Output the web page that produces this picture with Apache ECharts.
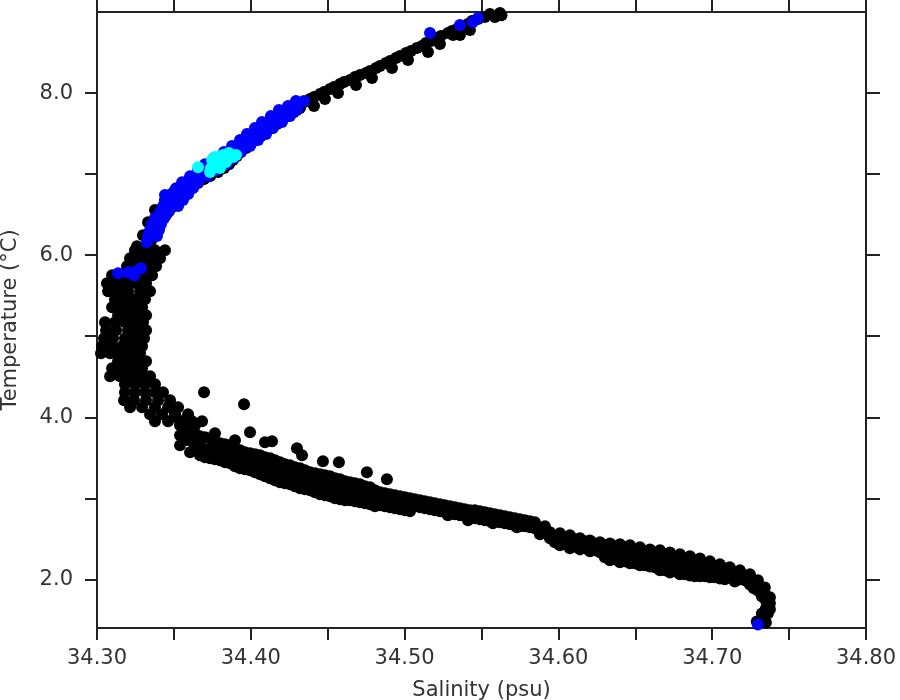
<!DOCTYPE html>
<html><head><meta charset="utf-8">
<script src="https://cdn.jsdelivr.net/npm/echarts@6/dist/echarts.min.js"></script>
<style>html,body{margin:0;padding:0;background:#fff}#c{width:900px;height:700px}</style>
</head><body><div id="c"></div>
<script>
// Salinity (psu), Temperature (°C) pairs
const blackUpper = [
[34.5620,8.988],[34.5555,8.975],[34.5522,8.938],[34.5477,8.914],[34.5438,8.889],[34.5412,8.852],[34.5379,8.827],[34.5340,8.790],[34.5308,8.765],[34.5282,8.741],[34.5236,8.704],[34.5210,8.679],[34.5171,8.642],[34.5139,8.617],[34.5113,8.580],[34.5080,8.556],[34.5041,8.519],[34.5009,8.494],[34.4970,8.457],[34.4944,8.432],[34.4905,8.395],[34.4879,8.370],[34.4840,8.333],[34.4814,8.309],[34.4775,8.272],[34.4749,8.247],[34.4710,8.222],[34.4677,8.198],[34.4645,8.160],[34.4606,8.136],[34.4580,8.111],[34.4541,8.074],[34.4515,8.049],[34.4476,8.012],[34.4450,7.988],[34.4411,7.951],[34.4385,7.926],[34.4346,7.889],[34.4320,7.864],
[34.5360,8.716],[34.5230,8.605],[34.5152,8.506],[34.5022,8.407],[34.4918,8.309],[34.4788,8.185],[34.4684,8.099],[34.4567,8.000],[34.4482,7.926],[34.4411,7.840],[34.5425,8.778],[34.5587,8.938],[34.5630,8.960],[34.5315,8.716]
];
const blackMid = [
[34.4320,7.815],[34.4281,7.765],[34.4242,7.716],[34.4203,7.667],[34.4170,7.617],[34.4138,7.568],[34.4099,7.519],[34.4066,7.469],[34.4034,7.420],[34.4001,7.370],[34.3969,7.321],[34.3936,7.272],[34.3910,7.222],[34.3884,7.173],[34.3858,7.123],[34.3826,7.074],[34.3787,7.025],[34.3735,6.975],[34.3696,6.938],[34.3657,6.889],[34.3624,6.840],[34.3592,6.790],[34.3566,6.741],[34.3540,6.691],[34.3514,6.642],[34.3488,6.593],[34.3468,6.543],[34.3449,6.494],[34.3429,6.444],[34.3410,6.395],[34.3397,6.346],[34.3384,6.296],[34.3371,6.247],[34.3358,6.198],[34.3345,6.148],
[34.3377,6.556],[34.3332,6.407],[34.3299,6.247],[34.3260,6.111],[34.3442,6.679],[34.3507,6.802]
];
const blackLeft = [
[34.3247,6.062],[34.3312,6.062],[34.3377,6.062],[34.3442,6.062],
[34.3215,5.963],[34.3280,5.963],[34.3345,5.963],[34.3410,5.963],
[34.3195,5.864],[34.3260,5.864],[34.3325,5.864],[34.3384,5.864],
[34.3098,5.753],[34.3163,5.753],[34.3228,5.753],[34.3293,5.753],[34.3358,5.753],
[34.3065,5.654],[34.3124,5.654],[34.3189,5.654],[34.3254,5.654],[34.3319,5.654],
[34.3072,5.556],[34.3137,5.556],[34.3202,5.556],[34.3280,5.556],[34.3345,5.556],
[34.3117,5.457],[34.3182,5.457],[34.3247,5.457],[34.3312,5.457],
[34.3098,5.358],[34.3163,5.358],[34.3228,5.358],[34.3293,5.358],
[34.3137,5.259],[34.3202,5.259],[34.3267,5.259],[34.3319,5.259],
[34.3052,5.173],[34.3117,5.173],[34.3182,5.173],[34.3247,5.173],[34.3299,5.173],
[34.3059,5.074],[34.3124,5.074],[34.3202,5.074],[34.3267,5.074],[34.3319,5.074],
[34.3046,4.975],[34.3104,4.975],[34.3182,4.975],[34.3247,4.975],[34.3306,4.975],
[34.3033,4.877],[34.3098,4.877],[34.3163,4.877],[34.3228,4.877],[34.3293,4.877],
[34.3026,4.790],[34.3085,4.790],[34.3150,4.790],[34.3215,4.790],[34.3280,4.790],
[34.3137,4.691],[34.3202,4.691],[34.3267,4.691],[34.3319,4.691],
[34.3098,4.605],[34.3163,4.605],[34.3228,4.605],[34.3293,4.605],
[34.3085,4.506],[34.3150,4.506],[34.3215,4.506],[34.3280,4.506],[34.3345,4.506],
[34.3182,4.407],[34.3247,4.407],[34.3312,4.407],[34.3377,4.407],
[34.3182,4.309],[34.3247,4.309],[34.3312,4.309],[34.3377,4.309],[34.3429,4.309],
[34.3176,4.210],[34.3241,4.210],[34.3319,4.210],[34.3397,4.210],[34.3475,4.210],
[34.3215,4.123],[34.3293,4.123],[34.3377,4.123],[34.3462,4.123],[34.3527,4.123],
[34.3345,4.037],[34.3423,4.037],[34.3507,4.037],[34.3592,4.037],
[34.3377,3.951],[34.3462,3.951],[34.3540,3.951],[34.3618,3.951],[34.3683,3.951]
];
const blackLower = [
[34.3540,3.901],[34.3540,3.778],[34.3540,3.654],
[34.3605,3.840],[34.3605,3.716],[34.3605,3.568],
[34.3670,3.765],[34.3670,3.642],[34.3670,3.531],
[34.3735,3.741],[34.3735,3.617],[34.3735,3.494],
[34.3800,3.679],[34.3800,3.568],[34.3800,3.469],
[34.3865,3.654],[34.3865,3.531],[34.3865,3.432],
[34.3930,3.593],[34.3930,3.469],[34.3930,3.370],
[34.3995,3.556],[34.3995,3.444],[34.3995,3.346],
[34.4060,3.531],[34.4060,3.407],[34.4060,3.296],
[34.4125,3.494],[34.4125,3.370],[34.4125,3.247],
[34.4190,3.444],[34.4190,3.321],[34.4190,3.198],
[34.4255,3.407],[34.4255,3.296],[34.4255,3.173],
[34.4320,3.370],[34.4320,3.247],[34.4320,3.123],
[34.4385,3.321],[34.4385,3.210],[34.4385,3.099],
[34.4450,3.296],[34.4450,3.173],[34.4450,3.049],
[34.4515,3.272],[34.4515,3.148],[34.4515,3.025],
[34.4580,3.235],[34.4580,3.111],[34.4580,2.988],
[34.4645,3.198],[34.4645,3.086],[34.4645,2.975],
[34.4710,3.173],[34.4710,3.049],[34.4710,2.951],
[34.4775,3.136],[34.4775,3.025],[34.4775,2.926],
[34.4840,3.074],[34.4840,2.988],[34.4840,2.914],
[34.4905,3.049],[34.4905,2.963],[34.4905,2.889],
[34.4970,3.025],[34.4970,2.938],[34.4970,2.864],
[34.5035,3.000],[34.5035,2.914],[34.5035,2.840],
[34.5100,2.975],[34.5100,2.889],
[34.5165,2.951],[34.5165,2.864],
[34.5230,2.926],[34.5230,2.840],
[34.5295,2.901],[34.5295,2.815],
[34.5360,2.877],[34.5360,2.790],
[34.5425,2.852],[34.5425,2.765],
[34.5490,2.840],[34.5490,2.741],
[34.5555,2.815],[34.5555,2.716],
[34.5620,2.790],[34.5620,2.704],
[34.5685,2.765],[34.5685,2.679],
[34.5750,2.741],[34.5750,2.654],
[34.5815,2.716],[34.5815,2.642],
[34.3572,3.864],[34.3572,3.716],[34.3637,3.802],[34.3637,3.654],
[34.3702,3.753],[34.3702,3.605],[34.3702,3.506],
[34.3767,3.704],[34.3767,3.580],[34.3767,3.481],
[34.3832,3.667],[34.3832,3.543],[34.3832,3.444],
[34.3897,3.617],[34.3897,3.494],[34.3897,3.395],
[34.3962,3.568],[34.3962,3.457],[34.3962,3.358],
[34.4027,3.543],[34.4027,3.420],[34.4027,3.321],
[34.4092,3.506],[34.4092,3.383],[34.4092,3.272],
[34.4157,3.469],[34.4157,3.346],[34.4157,3.222],
[34.4222,3.420],[34.4222,3.309],[34.4222,3.185],
[34.4287,3.383],[34.4287,3.272],[34.4287,3.148],
[34.4352,3.346],[34.4352,3.222],[34.4352,3.111],
[34.4417,3.309],[34.4417,3.185],[34.4417,3.074],
[34.4482,3.284],[34.4482,3.160],[34.4482,3.037],
[34.4547,3.247],[34.4547,3.123],[34.4547,3.000],
[34.4612,3.210],[34.4612,3.099],[34.4612,2.975],
[34.4677,3.185],[34.4677,3.062],[34.4677,2.963],
[34.4742,3.148],[34.4742,3.037],[34.4742,2.938],
[34.4807,3.099],[34.4807,3.000],[34.4807,2.901],
[34.4872,3.062],[34.4872,2.975],[34.4872,2.901],
[34.4937,3.037],[34.4937,2.951],[34.4937,2.877],
[34.5002,3.012],[34.5002,2.926],[34.5002,2.852],
[34.5067,2.988],[34.5067,2.901],[34.5132,2.963],[34.5132,2.877],
[34.5197,2.938],[34.5197,2.852],[34.5262,2.914],[34.5262,2.827],
[34.5327,2.889],[34.5327,2.802],[34.5392,2.864],[34.5392,2.778],
[34.5457,2.852],[34.5457,2.753],[34.5522,2.827],[34.5522,2.728],
[34.5587,2.802],[34.5587,2.716],[34.5652,2.778],[34.5652,2.691],
[34.5717,2.753],[34.5717,2.667],[34.5782,2.728],[34.5782,2.654],
[34.5847,2.704],[34.5847,2.630],[34.5912,2.654],[34.5912,2.580],
[34.3507,4.025],[34.3572,3.963],[34.3637,3.901],[34.3767,3.802],[34.3897,3.716],
[34.3995,3.815],[34.4092,3.691],[34.4138,3.704],[34.4300,3.617],[34.4333,3.531],[34.4469,3.457],[34.4573,3.444],[34.4755,3.321],[34.4885,3.235],[34.3696,4.309],[34.3956,4.160],
[34.4989,2.877],[34.5282,2.790],[34.5412,2.728],[34.5574,2.691],[34.5730,2.642]
];
const blackDeep = [
[34.5880,2.617],[34.5880,2.556],
[34.5945,2.580],[34.5945,2.506],
[34.6010,2.568],[34.6010,2.481],[34.6010,2.420],
[34.6075,2.543],[34.6075,2.457],[34.6075,2.383],
[34.6140,2.506],[34.6140,2.432],[34.6140,2.370],
[34.6205,2.481],[34.6205,2.407],[34.6205,2.346],
[34.6270,2.457],[34.6270,2.395],[34.6270,2.333],
[34.6335,2.444],[34.6335,2.370],[34.6335,2.296],[34.6335,2.235],
[34.6400,2.432],[34.6400,2.358],[34.6400,2.284],[34.6400,2.210],
[34.6465,2.420],[34.6465,2.333],[34.6465,2.259],[34.6465,2.198],
[34.6530,2.395],[34.6530,2.321],[34.6530,2.235],[34.6530,2.173],
[34.6595,2.370],[34.6595,2.296],[34.6595,2.222],[34.6595,2.160],
[34.6660,2.358],[34.6660,2.272],[34.6660,2.185],[34.6660,2.111],
[34.6725,2.333],[34.6725,2.247],[34.6725,2.160],[34.6725,2.086],
[34.6790,2.309],[34.6790,2.222],[34.6790,2.136],[34.6790,2.062],
[34.6855,2.284],[34.6855,2.198],[34.6855,2.111],[34.6855,2.049],
[34.6920,2.259],[34.6920,2.173],[34.6920,2.099],[34.6920,2.037],
[34.6985,2.222],[34.6985,2.148],[34.6985,2.074],[34.6985,2.025],
[34.7050,2.185],[34.7050,2.111],[34.7050,2.049],[34.7050,2.012],
[34.7115,2.148],[34.7115,2.086],[34.7115,2.025],
[34.7180,2.111],[34.7180,2.049],[34.7180,2.000],
[34.7245,2.062],[34.7245,2.000],[34.7245,1.938],
[34.7297,1.988],[34.7297,1.926],[34.7297,1.864],
[34.7342,1.901],[34.7342,1.827],
[34.7375,1.778],[34.7375,1.704],[34.7375,1.630],
[34.7349,1.741],[34.7349,1.642],[34.7362,1.580],[34.7336,1.519],[34.7310,1.469],[34.7349,1.469],
[34.5977,2.531],[34.5977,2.457],[34.6042,2.519],[34.6042,2.432],
[34.6107,2.494],[34.6107,2.407],[34.6172,2.469],[34.6172,2.383],
[34.6237,2.444],[34.6237,2.358],
[34.6302,2.420],[34.6302,2.333],[34.6302,2.272],
[34.6367,2.407],[34.6367,2.321],[34.6367,2.247],
[34.6432,2.395],[34.6432,2.296],[34.6432,2.222],
[34.6497,2.370],[34.6497,2.284],[34.6497,2.198],
[34.6562,2.346],[34.6562,2.259],[34.6562,2.173],
[34.6627,2.321],[34.6627,2.235],[34.6627,2.148],
[34.6692,2.296],[34.6692,2.210],[34.6692,2.111],
[34.6757,2.272],[34.6757,2.185],[34.6757,2.099],
[34.6822,2.247],[34.6822,2.160],[34.6822,2.062],
[34.6887,2.222],[34.6887,2.136],[34.6887,2.037],
[34.6952,2.198],[34.6952,2.111],[34.6952,2.037],
[34.7017,2.160],[34.7017,2.086],[34.7017,2.025],
[34.7082,2.136],[34.7082,2.062],[34.7082,2.000],
[34.7147,2.086],[34.7147,2.025],[34.7147,1.975],
[34.7212,2.049],[34.7212,1.988],
[34.7271,1.963],[34.7271,1.889],
[34.7323,1.877],[34.7323,1.790],
[34.7362,1.728],[34.7362,1.630],
[34.7323,1.580],[34.7323,1.481],[34.7290,1.481]
];
const bluePoints = [
[34.4294,7.901],[34.4346,7.901],
[34.4242,7.840],[34.4307,7.840],
[34.4183,7.790],[34.4248,7.790],[34.4300,7.790],
[34.4131,7.716],[34.4196,7.716],[34.4255,7.716],
[34.4073,7.642],[34.4138,7.642],[34.4203,7.642],
[34.4027,7.568],[34.4086,7.568],[34.4144,7.568],
[34.3975,7.494],[34.4040,7.494],[34.4099,7.494],
[34.3930,7.420],[34.3988,7.420],[34.4047,7.420],
[34.3878,7.346],[34.3936,7.346],[34.3995,7.346],
[34.3826,7.272],[34.3884,7.272],[34.3936,7.272],
[34.3761,7.198],[34.3832,7.198],[34.3891,7.198],
[34.3702,7.123],[34.3774,7.123],[34.3839,7.123],
[34.3657,7.049],[34.3715,7.049],[34.3774,7.049],
[34.3605,6.975],[34.3663,6.975],[34.3715,6.975],
[34.3553,6.901],[34.3611,6.901],[34.3657,6.901],
[34.3514,6.827],[34.3579,6.827],[34.3624,6.827],
[34.3481,6.753],[34.3546,6.753],[34.3592,6.753],
[34.3455,6.679],[34.3520,6.679],[34.3559,6.679],
[34.3429,6.605],[34.3488,6.605],[34.3527,6.605],
[34.3410,6.531],[34.3462,6.531],
[34.3377,6.457],[34.3436,6.457],
[34.3358,6.383],[34.3416,6.383],
[34.3345,6.309],[34.3403,6.309],
[34.3332,6.235],[34.3390,6.235],
[34.3325,6.160],
[34.3442,6.741],[34.3137,5.778],[34.3202,5.790],[34.3254,5.802],[34.3286,5.840],[34.3241,5.753],
[34.5165,8.741],[34.5360,8.840],[34.5444,8.877],[34.5477,8.926],
[34.7297,1.444]
];
const cyanPoints = [
[34.3657,7.086],[34.3741,7.074],[34.3748,7.173],[34.3787,7.210],[34.3819,7.235],[34.3858,7.259],[34.3884,7.210],[34.3839,7.148],[34.3774,7.123],[34.3800,7.074],[34.3904,7.235],[34.3735,7.025],[34.3767,7.210]
];
const xTicks = [34.30,34.35,34.40,34.45,34.50,34.55,34.60,34.65,34.70,34.75,34.80];
const xLabels = [34.30,34.40,34.50,34.60,34.70,34.80];
const yTicks = [2,3,4,5,6,7,8];
const yLabels = [2,4,6,8];

const FONT = 'DejaVu Sans';
const AX = {color:'#222', width:2};
const chart = echarts.init(document.getElementById('c'), null, {renderer:'canvas'});
const blackAll = [].concat(blackUpper, blackMid, blackLeft, blackLower, blackDeep);
function sc(data, color){
  return {type:'scatter', data:data, symbol:'circle', symbolSize:12, xAxisIndex:0, yAxisIndex:0,
    itemStyle:{color:color, opacity:1}, silent:true, animation:false, clip:true};
}
chart.setOption({
  animation:false,
  backgroundColor:'#fff',
  grid:{left:97, right:34, top:12, bottom:72, containLabel:false, outerBoundsMode:'none', show:false},
  xAxis:[
    {type:'value', position:'bottom', min:34.30, max:34.80,
     name:'Salinity (psu)', nameLocation:'middle', nameGap:52,
     nameTextStyle:{fontFamily:FONT, fontSize:21, color:'#333'},
     axisLine:{show:true, onZero:false, lineStyle:AX},
     axisTick:{show:true, inside:false, length:12, customValues:xTicks, lineStyle:AX},
     axisLabel:{show:true, customValues:xLabels, margin:20, fontFamily:FONT, fontSize:21, color:'#333',
       formatter:function(v){return Number(v).toFixed(2);}},
     splitLine:{show:false}},
    {type:'value', position:'top', min:34.30, max:34.80,
     axisLine:{show:true, onZero:false, lineStyle:AX},
     axisTick:{show:true, inside:false, length:12, customValues:xTicks, lineStyle:AX},
     axisLabel:{show:false}, splitLine:{show:false}}
  ],
  yAxis:[
    {type:'value', position:'left', min:1.4, max:9.0,
     name:'Temperature (°C)', nameLocation:'middle', nameGap:76, nameRotate:90,
     nameTextStyle:{fontFamily:FONT, fontSize:21, color:'#333'},
     axisLine:{show:true, onZero:false, lineStyle:AX},
     axisTick:{show:true, inside:false, length:12, customValues:yTicks, lineStyle:AX},
     axisLabel:{show:true, customValues:yLabels, margin:24, fontFamily:FONT, fontSize:21, color:'#333',
       formatter:function(v){return Number(v).toFixed(1);}},
     splitLine:{show:false}},
    {type:'value', position:'right', min:1.4, max:9.0,
     axisLine:{show:true, onZero:false, lineStyle:AX},
     axisTick:{show:true, inside:false, length:14, customValues:yTicks, lineStyle:AX},
     axisLabel:{show:false}, splitLine:{show:false}}
  ],
  series:[ sc(blackAll,'#000000'), sc(bluePoints,'#0000ff'), sc(cyanPoints,'#00ffff') ]
});
</script>
</body></html>
